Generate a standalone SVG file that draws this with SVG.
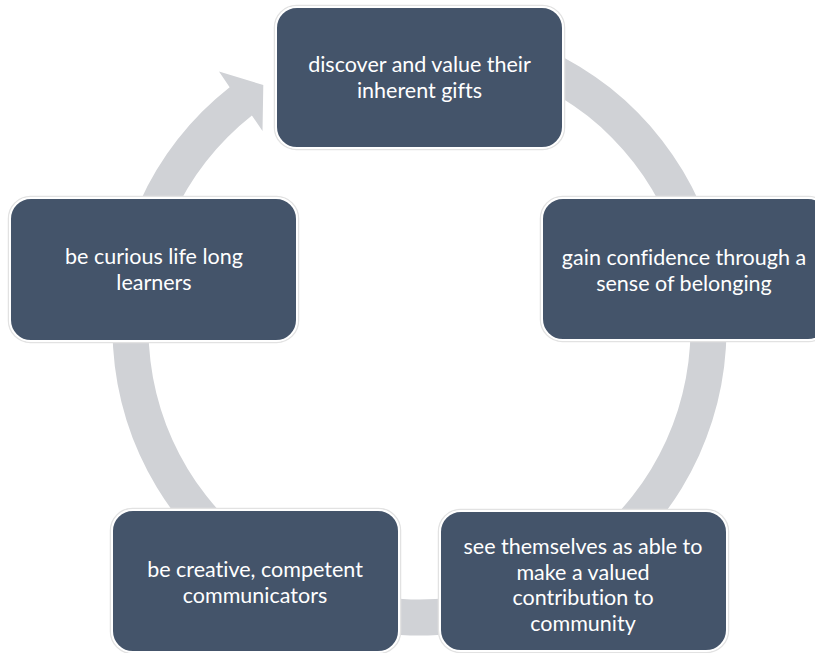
<svg xmlns="http://www.w3.org/2000/svg" width="815" height="653" viewBox="0 0 815 653">
  <style>
    .halo { fill: none; stroke: #e2e2e2; stroke-width: 1.5; }
    .box { fill: #44546a; stroke: #ffffff; stroke-width: 2; }
    .lbl { font-family: Lato, "Open Sans", "Liberation Sans", sans-serif; font-size: 21.5px; fill: #ffffff; text-anchor: middle; font-variant-ligatures: none; }
    .ring { fill: #d0d2d6; stroke: none; }
  </style>
  <rect width="815" height="653" fill="#ffffff"/>
  <g id="connectors">
    <path class="ring" d="M 366.19 26.16 A 307 307 0 1 1 229.65 87.24 L 219 71.5 L 263.3 85 L 262.5 131 L 251.91 115.53 A 271 271 0 1 0 372.44 61.62 Z"/>
  </g>
  <g id="node-top">
    <rect class="halo" x="274.5" y="5.5" width="290" height="144" rx="22"/>
    <rect class="box" x="276" y="7" width="287" height="141" rx="21"/>
    <text class="lbl" x="419.5" y="72">discover and value their</text>
    <text class="lbl" x="419.5" y="97.5">inherent gifts</text>
  </g>
  <g id="node-right">
    <rect class="halo" x="540.5" y="196.5" width="290" height="145" rx="22"/>
    <rect class="box" x="542" y="198" width="287" height="142" rx="21"/>
    <text class="lbl" x="684" y="265">gain confidence through a</text>
    <text class="lbl" x="684" y="290.5">sense of belonging</text>
  </g>
  <g id="node-bottom-right">
    <rect class="halo" x="438.5" y="509.5" width="290" height="143" rx="22"/>
    <rect class="box" x="440" y="511" width="287" height="140" rx="21"/>
    <text class="lbl" x="583" y="554">see themselves as able to</text>
    <text class="lbl" x="583" y="579.5">make a valued</text>
    <text class="lbl" x="583" y="605">contribution to</text>
    <text class="lbl" x="583" y="630.5">community</text>
  </g>
  <g id="node-bottom-left">
    <rect class="halo" x="110.5" y="508.5" width="290" height="145" rx="22"/>
    <rect class="box" x="112" y="510" width="287" height="142" rx="21"/>
    <text class="lbl" x="255" y="577">be creative, competent</text>
    <text class="lbl" x="255" y="602.5">communicators</text>
  </g>
  <g id="node-left">
    <rect class="halo" x="8.5" y="196.5" width="290" height="146" rx="22"/>
    <rect class="box" x="10" y="198" width="287" height="143" rx="21"/>
    <text class="lbl" x="154" y="264">be curious life long</text>
    <text class="lbl" x="154" y="289.5">learners</text>
  </g>
</svg>
